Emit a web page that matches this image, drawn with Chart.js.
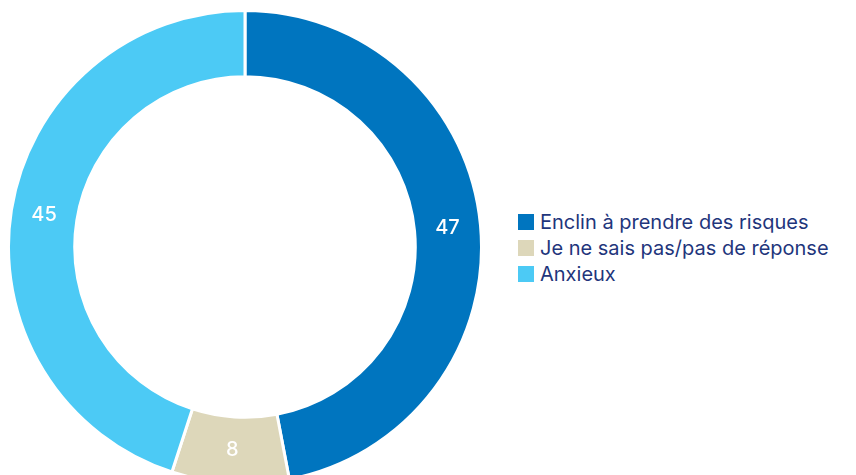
<!DOCTYPE html>
<html>
<head>
<meta charset="utf-8">
<script src="https://cdn.jsdelivr.net/npm/chart.js@4.4.1/dist/chart.umd.min.js"></script>
<style>
  html, body { margin: 0; padding: 0; background: #ffffff; width: 856px; height: 475px; overflow: hidden; }
  #wrap { position: absolute; left: 6.5px; top: 9px; width: 476px; height: 476px; }
  #legend { position: absolute; left: 518px; top: 209px; font-family: Inter, "Liberation Sans", sans-serif; font-size: 20px; color: #1f367c; }
  .item { display: flex; align-items: center; height: 26px; white-space: nowrap; }
  .box { width: 16px; height: 16px; margin-right: 6px; flex: none; }
</style>
</head>
<body>
<div id="wrap"><canvas id="c"></canvas></div>
<div id="legend"></div>
<script>
const categories = ["Enclin à prendre des risques", "Je ne sais pas/pas de réponse", "Anxieux"];
const values = [47, 8, 45];
const colors = ["#0075bf", "#ddd7ba", "#4ccaf5"];

const legendEl = document.getElementById('legend');
categories.forEach((name, i) => {
  const row = document.createElement('div');
  row.className = 'item';
  const box = document.createElement('span');
  box.className = 'box';
  box.style.background = colors[i];
  const txt = document.createElement('span');
  txt.textContent = name;
  row.appendChild(box);
  row.appendChild(txt);
  legendEl.appendChild(row);
});

const valueLabels = {
  id: 'valueLabels',
  afterDatasetsDraw(chart) {
    const ctx = chart.ctx;
    const meta = chart.getDatasetMeta(0);
    ctx.save();
    ctx.fillStyle = '#ffffff';
    ctx.font = '500 20px Inter, "Liberation Sans", sans-serif';
    ctx.textAlign = 'center';
    ctx.textBaseline = 'middle';
    meta.data.forEach((arc, i) => {
      const p = arc.tooltipPosition();
      ctx.fillText(String(values[i]), p.x, p.y);
    });
    ctx.restore();
  }
};

new Chart(document.getElementById('c'), {
  type: 'doughnut',
  data: {
    labels: categories,
    datasets: [{
      data: values,
      backgroundColor: colors,
      borderColor: '#ffffff',
      borderWidth: 3,
      hoverOffset: 0
    }]
  },
  options: {
    responsive: true,
    maintainAspectRatio: false,
    animation: false,
    events: [],
    cutout: '72%',
    layout: { padding: 0 },
    plugins: {
      legend: { display: false },
      tooltip: { enabled: false }
    }
  },
  plugins: [valueLabels]
});
</script>
</body>
</html>
